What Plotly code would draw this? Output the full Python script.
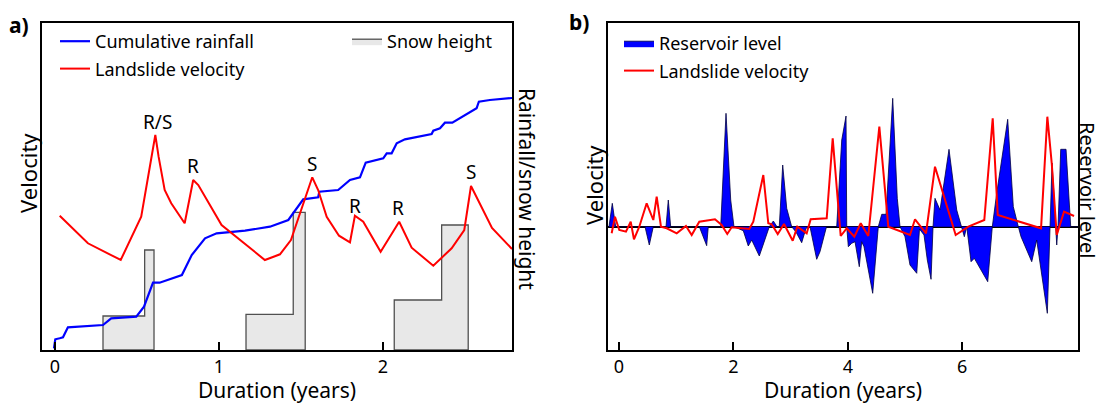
import plotly.graph_objects as go

# ---------------- Panel a data ----------------
rain_t = [-0.006, 0.002, 0.029, 0.049, 0.079, 0.293, 0.343, 0.496, 0.543, 0.598, 0.638, 0.774,
          0.834, 0.915, 0.986, 1.159, 1.311, 1.423, 1.514, 1.605, 1.612, 1.727, 1.799, 1.860,
          1.895, 2.002, 2.023, 2.053, 2.084, 2.134, 2.297, 2.307, 2.348, 2.378, 2.423, 2.520,
          2.571, 2.585, 2.652, 2.787]
rain_v = [1.7, 10.7, 11.7, 12.7, 22.7, 25, 31.7, 33.3, 43.3, 67.3, 67.3, 75,
          95, 111.7, 116.7, 119.3, 123.3, 130, 150.7, 152.7, 158.3, 160, 170, 172.7,
          187.3, 191.7, 196.7, 196.7, 206.7, 210.7, 216, 219.3, 221.7, 227.3, 227.3, 236.7,
          241.7, 248.3, 250, 252]

vel_a_t = [0.029, 0.201, 0.401, 0.526, 0.612, 0.632, 0.669, 0.709, 0.791, 0.843, 0.874, 0.915,
           0.965, 1.016, 1.280, 1.372, 1.439, 1.569, 1.605, 1.657, 1.732, 1.799, 1.829, 1.880,
           1.986, 2.099, 2.175, 2.307, 2.419, 2.496, 2.537, 2.665, 2.787]
vel_a_v = [134.3, 106.7, 90, 133.3, 215, 193.3, 160, 146.7, 126.7, 170, 165, 153.3,
           140, 125, 90, 95.7, 110, 172.7, 160, 133.3, 114.3, 107.7, 134.3, 128.3,
           98.3, 128.3, 102.3, 84.3, 101.7, 120, 164, 122, 101]

snow_start = [0.293, 1.165, 2.069]
snow_step = [0.547, 1.453, 2.358]
snow_end = [0.604, 1.526, 2.520]
snow_low = [34, 35.7, 50]
snow_high = [100, 137.7, 125]

peak_labels = ["R/S", "R", "S", "R", "R", "S"]
peak_t = [0.626, 0.843, 1.565, 1.832, 2.093, 2.535]
peak_v = [228, 184.5, 186.3, 144.2, 142.5, 178]

ticks_a = [0, 1, 2]

# ---------------- Panel b data ----------------
vel_b_t = [-0.128, -0.070, 0.005, 0.122, 0.205, 0.262, 0.355, 0.484, 0.600, 0.659, 0.734, 0.834,
           1.009, 1.171, 1.271, 1.404, 1.678, 1.795, 1.893, 1.970, 2.278, 2.348, 2.523, 2.610,
           2.670, 2.775, 2.885, 3.037, 3.117, 3.281, 3.351, 3.631, 3.736, 3.876, 3.981, 4.114,
           4.226, 4.358, 4.551, 4.708, 5.087, 5.175, 5.367, 5.524, 5.886, 6.107, 6.386, 6.533,
           6.621, 6.923, 7.378, 7.488, 7.565, 7.652, 7.780, 7.955]
vel_b_v = [-6.6, 10, -3.3, -5, 5, -12.6, 0, 23.4, 6.7, 30, 0, -1.6,
           -6.6, 0.7, -8.3, 5, 7.4, 1.7, -7.3, -0.6, -2.3, 5, 51.7, 3.4,
           2.4, -7.3, 2.7, -14, 0, -6.6, 7.4, 8.4, 88.4, -9.3, -1.6, -10,
           3.4, -9.3, 100, 0, -8.3, 7.4, -6.6, 60, -8.3, 0, 6.7, 108.4,
           11.7, 6.7, -1.6, 110, 63.4, -8.3, 15, 10.7]

res_t = [-0.175, -0.117, -0.058, 0.455, 0.530, 0.600, 0.822, 0.862, 0.904, 1.404, 1.533, 1.561,
         1.778, 1.871, 1.953, 2.010, 2.173, 2.260, 2.320, 2.453, 2.628, 2.698, 2.762, 2.802,
         2.862, 2.932, 3.019, 3.094, 3.194, 3.269, 3.339, 3.456, 3.514, 3.628, 3.806, 3.894,
         3.969, 3.981, 4.009, 4.068, 4.126, 4.201, 4.243, 4.283, 4.435, 4.533, 4.593, 4.668,
         4.785, 4.865, 4.913, 5.000, 5.087, 5.205, 5.253, 5.332, 5.390, 5.455, 5.490, 5.524,
         5.612, 5.769, 5.904, 5.991, 6.037, 6.079, 6.154, 6.212, 6.446, 6.526, 6.603, 6.795,
         6.893, 6.981, 7.028, 7.215, 7.302, 7.488, 7.535, 7.570, 7.614, 7.631, 7.652, 7.675,
         7.722, 7.815, 7.897, 8.024]
res_v = [0, 23.4, 0, 0, -18.3, 0, 0, 26.7, 0, 0, -19, 0,
         0, 113.4, 26.7, 0, -4, -19.3, -13.3, -29.3, 0, 5.7, 0, 0,
         61.7, 18.4, 0, -5.3, -16, -1.6, 0, -32.6, -25, 0, 0, 86.7,
         110.7, 0, -20, -16.6, -15, -40, -15, -20, -66.6, 0, 12.4, 12.4,
         128.4, 28.4, 0, -10, -38.3, -46.6, -2.3, -8.3, -33.3, -52.6, 0, 28.4,
         16.7, 77.4, 16.7, 0, -10, 0, -35, -31.6, -55, 0, 33.4, 107.4,
         20, 0, -10, -35, -13.3, -86.6, 0, 63.7, 21.7, 0, -18.3, 0,
         77.4, 77.4, 0, 0]

ticks_b = [0, 2, 4, 6]

FONT = "Noto Sans"
W, H = 1102, 403


def px(x):
    return x / W


def py(y):
    return 1 - y / H


# build snow step polygons
snow_x, snow_y = [], []
for s, m, e, lo, hi in zip(snow_start, snow_step, snow_end, snow_low, snow_high):
    snow_x += [s, s, m, m, e, e, s, None]
    snow_y += [0, lo, lo, hi, hi, 0, 0, None]

fig = go.Figure()

fig.add_trace(go.Scatter(x=snow_x, y=snow_y, mode="lines", fill="toself",
                         fillcolor="#e8e8e8", line=dict(color="#505050", width=1.3),
                         name="Snow height", legend="legend2", xaxis="x", yaxis="y"))
fig.add_trace(go.Scatter(x=rain_t, y=rain_v, mode="lines", line=dict(color="#0000ff", width=2.2),
                         name="Cumulative rainfall", legend="legend", legendgroup="g1",
                         xaxis="x", yaxis="y"))
fig.add_trace(go.Scatter(x=vel_a_t, y=vel_a_v, mode="lines", line=dict(color="#ff0000", width=2),
                         name="Landslide velocity", legend="legend", legendgroup="g2",
                         xaxis="x", yaxis="y"))

fig.add_trace(go.Scatter(x=res_t, y=res_v, mode="lines", fill="toself",
                         fillcolor="#0000ff", line=dict(color="#000040", width=0.8),
                         name="Reservoir level", legend="legend3", legendgroup="g3",
                         xaxis="x2", yaxis="y2"))
fig.add_trace(go.Scatter(x=vel_b_t, y=vel_b_v, mode="lines", line=dict(color="#ff0000", width=2),
                         name="Landslide velocity", legend="legend3", legendgroup="g4",
                         xaxis="x2", yaxis="y2"))

axis_common = dict(showline=True, linecolor="black", linewidth=2, mirror=True,
                   showgrid=False, zeroline=False)

fig.update_layout(
    width=W, height=H,
    margin=dict(l=0, r=0, t=0, b=0),
    paper_bgcolor="white", plot_bgcolor="white",
    font=dict(family=FONT, size=18, color="black"),
    xaxis=dict(domain=[px(42), px(512)], range=[-0.079, 2.787], tickvals=ticks_a,
               ticks="inside", ticklen=8, tickwidth=2, tickcolor="black",
               tickfont=dict(size=18), ticklabelstandoff=-1, anchor="y", **axis_common),
    yaxis=dict(domain=[py(350), py(23)], range=[0, 327], showticklabels=False,
               ticks="", anchor="x", **axis_common),
    xaxis2=dict(domain=[px(608), px(1078)], range=[-0.192, 8.024], tickvals=ticks_b,
                ticks="inside", ticklen=8, tickwidth=2, tickcolor="black",
                tickfont=dict(size=18), ticklabelstandoff=-1, anchor="y2", **axis_common),
    yaxis2=dict(domain=[py(350), py(23)], range=[-123.3, 203.7], showticklabels=False,
                ticks="", anchor="x2", showline=True, linecolor="black", linewidth=2,
                mirror=True, showgrid=False, zeroline=True, zerolinecolor="black",
                zerolinewidth=2),
    showlegend=True,
    legend=dict(x=px(55), y=py(23), xanchor="left", yanchor="top", bgcolor="rgba(0,0,0,0)",
                font=dict(size=18), traceorder="grouped", tracegroupgap=1),
    legend2=dict(x=px(347), y=py(23), xanchor="left", yanchor="top", bgcolor="rgba(0,0,0,0)",
                 font=dict(size=18)),
    legend3=dict(x=px(619), y=py(25), xanchor="left", yanchor="top", bgcolor="rgba(0,0,0,0)",
                 font=dict(size=18), traceorder="grouped", tracegroupgap=1),
)

ann = []
for lab, t, v in zip(peak_labels, peak_t, peak_v):
    ann.append(dict(text=lab, x=t, y=v, xref="x", yref="y", showarrow=False,
                    font=dict(size=19)))


def paper_text(text, x, y, size, angle=0, bold=False):
    return dict(text=("<b>%s</b>" % text) if bold else text, x=px(x), y=py(y),
                xref="paper", yref="paper", showarrow=False, textangle=angle,
                font=dict(size=size), xanchor="center", yanchor="middle")


ann += [
    paper_text("a)", 19, 25, 21, bold=True),
    paper_text("b)", 579, 22, 21, bold=True),
    paper_text("Velocity", 28, 173, 22, angle=-90),
    paper_text("Rainfall/snow height", 527, 189, 21, angle=90),
    paper_text("Velocity", 594, 185, 22, angle=-90),
    paper_text("Reservoir level", 1088, 190, 20, angle=90),
    paper_text("Duration (years)", 277, 390, 21),
    paper_text("Duration (years)", 843, 390, 21),
]
fig.update_layout(annotations=ann)

fig.write_html("out.html", config={"displayModeBar": False},
               post_script="document.body.style.margin='0px';document.body.style.padding='0px';"
                           "document.body.style.overflow='hidden';")
